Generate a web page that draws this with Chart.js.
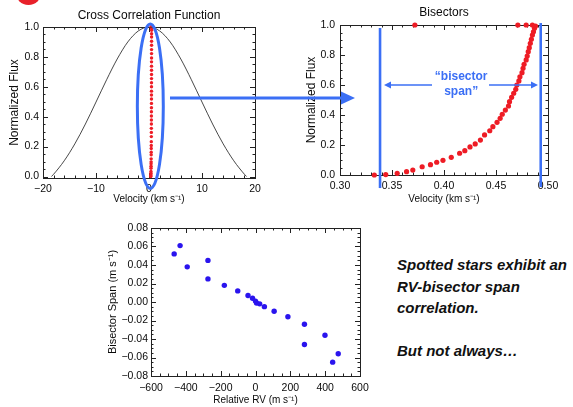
<!DOCTYPE html>
<html>
<head>
<meta charset="utf-8">
<script src="https://cdn.jsdelivr.net/npm/chart.js@4.4.0/dist/chart.umd.min.js"></script>
<style>
  html, body { margin: 0; padding: 0; background: #fff; }
  #page { position: relative; width: 573px; height: 407px; overflow: hidden; }
  canvas { position: absolute; }
  #ccf { left: 0; top: 0; }
  #bis { left: 290px; top: 0; }
  #span { left: 100px; top: 210px; }
  #note {
    position: absolute; left: 397px; top: 254px;
    font: italic bold 15px "Liberation Sans", Arial, sans-serif;
    line-height: 21.5px; color: #111; white-space: nowrap;
  }
  #overlay { position: absolute; left: 0; top: 0; pointer-events: none; }
</style>
</head>
<body>
<div id="page">
  <canvas id="ccf" width="290" height="210"></canvas>
  <canvas id="bis" width="283" height="210"></canvas>
  <canvas id="span" width="280" height="197"></canvas>
  <div id="note">Spotted stars exhibit an<br>RV-bisector span<br>correlation.<br><br>But not always…</div>
  <svg id="overlay" width="573" height="407">
    <circle cx="28.5" cy="-8" r="13" fill="#e8212a"/>
    <line x1="170" y1="98" x2="343" y2="98" stroke="#3b6ff5" stroke-width="3"/>
    <polygon points="341,91.5 355,98 341,104.5" fill="#3b6ff5"/>
  </svg>
</div>
<script>
// cross correlation function
const ccfVel = [-18.4, -18, -16, -14, -12, -10, -8, -6, -4, -2, 0, 2, 4, 6, 8, 10, 12, 14, 16, 18, 18.4];
const ccfFlux = [0, 0.015, 0.105, 0.218, 0.351, 0.498, 0.647, 0.786, 0.9, 0.974, 1.0,
  0.974, 0.9, 0.786, 0.647, 0.498, 0.351, 0.218, 0.105, 0.015, 0];

// bisector points (km/s, normalized flux)
const bisVel = [0.333, 0.344, 0.355, 0.364, 0.370, 0.379, 0.387, 0.393, 0.399, 0.407,
  0.415, 0.420, 0.425, 0.430, 0.435, 0.439, 0.444, 0.447, 0.451, 0.454,
  0.456, 0.459, 0.462, 0.463, 0.465, 0.467, 0.469, 0.470, 0.472, 0.473,
  0.475, 0.476, 0.477, 0.479, 0.480, 0.481, 0.482, 0.483, 0.484, 0.485,
  0.486, 0.487, 0.488, 0.372, 0.471, 0.479, 0.485];
const bisFlux = [0.000, 0.003, 0.011, 0.022, 0.033, 0.055, 0.069, 0.085, 0.098, 0.118,
  0.145, 0.162, 0.187, 0.207, 0.233, 0.267, 0.295, 0.322, 0.351, 0.378,
  0.405, 0.433, 0.460, 0.489, 0.518, 0.545, 0.571, 0.600, 0.627, 0.655,
  0.682, 0.711, 0.738, 0.767, 0.793, 0.822, 0.849, 0.878, 0.905, 0.933,
  0.955, 0.978, 0.993, 1.0, 1.0, 1.0, 1.0];

// relative RV (m/s) vs bisector span
const relRV = [-467, -433, -392, -273, -273, -179, -102, -43, -17, 0,
  6, 24, 51, 107, 186, 281, 281, 399, 443, 475];
const bisSpan = [0.052, 0.061, 0.038, 0.045, 0.025, 0.018, 0.012, 0.007, 0.004, 0.001,
  -0.001, -0.002, -0.005, -0.010, -0.016, -0.024, -0.046, -0.036, -0.065, -0.056];

const ccfTicks = [-20, -10, 0, 10, 20];
const fluxTicks = [0, 0.2, 0.4, 0.6, 0.8, 1.0];
const bisTicks = [0.30, 0.35, 0.40, 0.45, 0.50];
const rvTicks = [-600, -400, -200, 0, 200, 400, 600];
const spanTicks = [-0.08, -0.06, -0.04, -0.02, 0, 0.02, 0.04, 0.06, 0.08];

const BLUE = "#3b6ff5";
const RED = "#ee1c25";
const INK = "#0a0a0a";

Chart.defaults.font.family = "'Liberation Sans', Arial, sans-serif";
Chart.defaults.color = INK;

const pts = (xs, ys) => xs.map((x, i) => ({ x, y: ys[i] }));
const fmt = (v, d) => (v < 0 ? "\u2212" : "") + Math.abs(v).toFixed(d);

function axis(ticks, digits, o) {
  return {
    type: "linear",
    min: o.min,
    max: o.max,
    grid: { display: false, drawTicks: false },
    border: { display: false },
    afterBuildTicks: (s) => { s.ticks = ticks.map((v) => ({ value: v })); },
    afterFit: (s) => { if (o.width) s.width = o.width; if (o.height) s.height = o.height; },
    ticks: {
      callback: (v) => fmt(v, digits),
      font: { size: 10.5 },
      color: INK,
      padding: o.pad,
      maxRotation: 0,
      autoSkip: false,
    },
    title: {
      display: true,
      text: o.title,
      font: { size: o.titleSize || 10 },
      color: INK,
      padding: o.titlePad,
    },
  };
}

// IDL style box with inward major/minor ticks on all sides
const idlFrame = {
  id: "idlFrame",
  beforeDatasetsDraw(chart, args, opts) {
    const { ctx, chartArea: a, scales: { x, y } } = chart;
    ctx.save();
    ctx.strokeStyle = "#222";
    ctx.lineWidth = 1;
    ctx.strokeRect(Math.round(a.left) + 0.5, Math.round(a.top) + 0.5,
      Math.round(a.width), Math.round(a.height));
    const seg = (x1, y1, x2, y2) => { ctx.beginPath(); ctx.moveTo(x1, y1); ctx.lineTo(x2, y2); ctx.stroke(); };
    const inner = (scale, nMinor) => {
      const majors = scale.ticks.map((t) => t.value);
      const out = majors.map((v) => ({ v, len: 5 }));
      for (let i = 0; i < majors.length - 1; i++) {
        const step = (majors[i + 1] - majors[i]) / nMinor;
        for (let k = 1; k < nMinor; k++) out.push({ v: majors[i] + k * step, len: 2.5 });
      }
      return out;
    };
    inner(x, opts.xMinor).forEach((t) => {
      const p = Math.round(x.getPixelForValue(t.v)) + 0.5;
      if (p < a.left || p > a.right + 1) return;
      seg(p, a.bottom, p, a.bottom - t.len);
      seg(p, a.top, p, a.top + t.len);
    });
    inner(y, opts.yMinor).forEach((t) => {
      const p = Math.round(y.getPixelForValue(t.v)) + 0.5;
      if (p < a.top || p > a.bottom + 1) return;
      seg(a.left, p, a.left + t.len, p);
      seg(a.right, p, a.right - t.len, p);
    });
    ctx.restore();
  },
};

// blue loop around the bisector in the CCF panel
const loop = { v: 0.25, halfWidth: 2.45, top: 1.02, bottom: -0.08 };
const ccfLoop = {
  id: "ccfLoop",
  afterDraw(chart) {
    const { ctx, scales: { x, y } } = chart;
    const cx = x.getPixelForValue(loop.v);
    const rx = x.getPixelForValue(loop.v + loop.halfWidth) - cx;
    const yt = y.getPixelForValue(loop.top), yb = y.getPixelForValue(loop.bottom);
    ctx.save();
    ctx.strokeStyle = BLUE;
    ctx.lineWidth = 3;
    ctx.beginPath();
    ctx.ellipse(cx, (yt + yb) / 2, rx, (yb - yt) / 2, 0, 0, Math.PI * 2);
    ctx.stroke();
    ctx.restore();
  },
};

// bisector span markers
const spanEdges = [
  { v: 0.3385, top: 0.98, bottom: -0.087 },
  { v: 0.493, top: 1.013, bottom: -0.08 },
];
const spanArrows = [[0.3885, 0.3423], [0.4433, 0.4904]];
const spanArrowLevel = 0.6;
const spanLabel = { v: 0.4165, lines: ["\u201Cbisector", "span\u201D"], levels: [0.653, 0.553] };

const spanMarks = {
  id: "spanMarks",
  afterDraw(chart) {
    const { ctx, scales: { x, y } } = chart;
    ctx.save();
    ctx.strokeStyle = BLUE;
    ctx.fillStyle = BLUE;
    ctx.lineWidth = 2.6;
    spanEdges.forEach((e) => {
      const p = x.getPixelForValue(e.v);
      ctx.beginPath();
      ctx.moveTo(p, y.getPixelForValue(e.top));
      ctx.lineTo(p, y.getPixelForValue(e.bottom));
      ctx.stroke();
    });
    ctx.lineWidth = 1.5;
    const ay = y.getPixelForValue(spanArrowLevel);
    spanArrows.forEach(([from, to]) => {
      const x1 = x.getPixelForValue(from), x2 = x.getPixelForValue(to);
      const dir = Math.sign(x2 - x1);
      ctx.beginPath();
      ctx.moveTo(x1, ay);
      ctx.lineTo(x2 - dir * 5, ay);
      ctx.stroke();
      ctx.beginPath();
      ctx.moveTo(x2, ay);
      ctx.lineTo(x2 - dir * 7, ay - 3.5);
      ctx.lineTo(x2 - dir * 7, ay + 3.5);
      ctx.closePath();
      ctx.fill();
    });
    ctx.font = "bold 12px 'Liberation Sans', Arial, sans-serif";
    ctx.textAlign = "center";
    ctx.textBaseline = "middle";
    spanLabel.lines.forEach((t, i) => {
      ctx.fillText(t, x.getPixelForValue(spanLabel.v), y.getPixelForValue(spanLabel.levels[i]));
    });
    ctx.restore();
  },
};

const base = { animation: false, responsive: false, events: [] };

new Chart(document.getElementById("ccf"), {
  type: "scatter",
  data: {
    datasets: [
      {
        data: pts(ccfVel, ccfFlux),
        showLine: true,
        borderColor: "#333",
        borderWidth: 0.9,
        pointRadius: 0,
        cubicInterpolationMode: "monotone",
      },
      {
        data: pts(bisVel, bisFlux),
        pointRadius: 1.7,
        pointBorderWidth: 0,
        backgroundColor: RED,
        clip: false,
      },
    ],
  },
  options: {
    ...base,
    layout: { padding: { left: 0, right: 35, top: 0, bottom: 0 } },
    plugins: {
      legend: { display: false },
      tooltip: { enabled: false },
      title: {
        display: true, text: "Cross Correlation Function", color: INK, fullSize: false,
        font: { size: 12, weight: "normal" }, padding: { top: 8, bottom: 4.6 },
      },
      idlFrame: { xMinor: 5, yMinor: 4 },
    },
    scales: {
      x: axis(ccfTicks, 0, { min: -20, max: 20, height: 32, pad: 5,
        title: "Velocity (km s\u207B\u00B9)", titlePad: { top: 0, bottom: 5 } }),
      y: axis(fluxTicks, 1, { min: -0.01, max: 1.0, width: 43, pad: 4,
        title: "Normalized Flux", titleSize: 12, titlePad: { top: 7.8, bottom: 0 } }),
    },
  },
  plugins: [idlFrame, ccfLoop],
});

new Chart(document.getElementById("bis"), {
  type: "scatter",
  data: {
    datasets: [
      {
        data: pts(bisVel, bisFlux),
        pointRadius: 2.6,
        pointBorderWidth: 0,
        backgroundColor: RED,
        clip: false,
      },
    ],
  },
  options: {
    ...base,
    layout: { padding: { left: 0, right: 25, top: 0, bottom: 0 } },
    plugins: {
      legend: { display: false },
      tooltip: { enabled: false },
      title: {
        display: true, text: "Bisectors", color: INK, fullSize: false,
        font: { size: 12, weight: "normal" }, padding: { top: 5, bottom: 5.6 },
      },
      idlFrame: { xMinor: 5, yMinor: 4 },
    },
    scales: {
      x: axis(bisTicks, 2, { min: 0.3, max: 0.5, height: 35, pad: 5,
        title: "Velocity (km s\u207B\u00B9)", titlePad: { top: 0, bottom: 5 } }),
      y: axis(fluxTicks, 1, { min: 0, max: 1.0, width: 50, pad: 5,
        title: "Normalized Flux", titleSize: 12, titlePad: { top: 14.5, bottom: 0 } }),
    },
  },
  plugins: [idlFrame, spanMarks],
});

new Chart(document.getElementById("span"), {
  type: "scatter",
  data: {
    datasets: [
      {
        data: pts(relRV, bisSpan),
        pointRadius: 2.7,
        pointBorderWidth: 0,
        backgroundColor: "#2a14ee",
        clip: false,
      },
    ],
  },
  options: {
    ...base,
    layout: { padding: { left: 0, right: 20, top: 18, bottom: 0 } },
    plugins: {
      legend: { display: false },
      tooltip: { enabled: false },
      idlFrame: { xMinor: 4, yMinor: 4 },
    },
    scales: {
      x: axis(rvTicks, 0, { min: -600, max: 600, height: 31, pad: 6,
        title: "Relative RV (m s\u207B\u00B9)", titlePad: { top: 0, bottom: 0.5 } }),
      y: axis(spanTicks, 2, { min: -0.08, max: 0.08, width: 51, pad: 3,
        title: "Bisector Span (m s\u207B\u00B9)", titleSize: 11, titlePad: { top: 6.4, bottom: 0 } }),
    },
  },
  plugins: [idlFrame],
});
</script>
</body>
</html>
